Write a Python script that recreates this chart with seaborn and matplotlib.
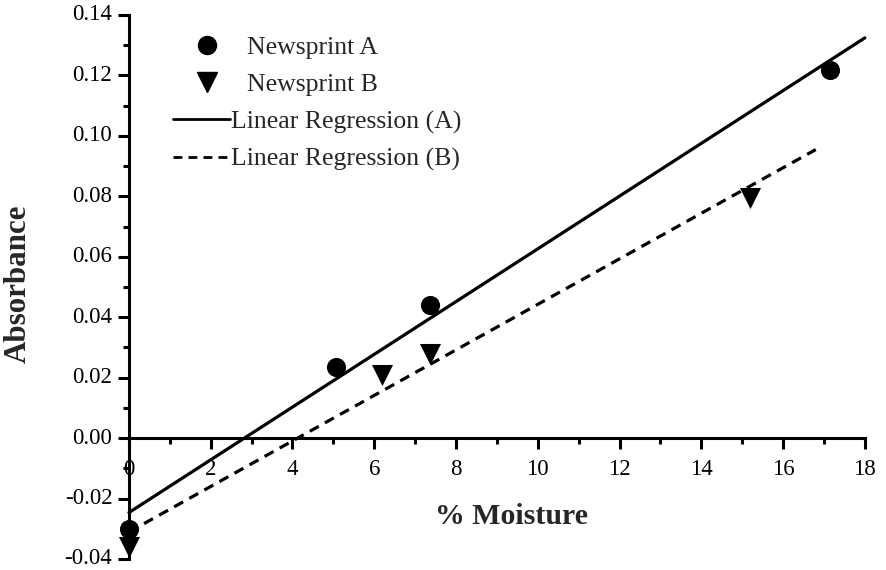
import numpy as np
import pandas as pd
import matplotlib
matplotlib.use("Agg")
import matplotlib.pyplot as plt
from matplotlib.lines import Line2D
import seaborn as sns

# Moisture content (%) and absorbance for the two newsprint samples
moisture_a = [0.0, 5.06, 7.36, 17.14]
absorbance_a = [-0.030, 0.0234, 0.0442, 0.1218]
moisture_b = [0.0, 6.19, 7.36, 15.2]
absorbance_b = [-0.036, 0.021, 0.0277, 0.0796]

# x extent over which each fitted line is drawn
fit_range_a = [0.0, 18.0]
fit_range_b = [0.0, 16.8]

x_ticks = [0, 2, 4, 6, 8, 10, 12, 14, 16, 18]
y_ticks = [-0.04, -0.02, 0.00, 0.02, 0.04, 0.06, 0.08, 0.10, 0.12, 0.14]

sns.set_style("ticks")
plt.rcParams["font.family"] = ["Liberation Serif", "DejaVu Serif"]

fig = plt.figure(figsize=(8.87, 5.70), dpi=100)
ax = fig.add_axes([0.1454, 0.0193, 0.8296, 0.9544])

df_a = pd.DataFrame({"x": moisture_a, "y": absorbance_a})
df_b = pd.DataFrame({"x": moisture_b, "y": absorbance_b})


def fit_line(xs, ys, xr):
    slope, intercept = np.polyfit(xs, ys, 1)
    x = np.array(xr)
    return pd.DataFrame({"x": x, "y": slope * x + intercept})


line_a = fit_line(moisture_a, absorbance_a, fit_range_a)
line_b = fit_line(moisture_b, absorbance_b, fit_range_b)

dash = (0, (3.2, 2.2))

sns.scatterplot(data=df_a, x="x", y="y", marker="o", s=190, color="black",
                edgecolor="black", linewidth=0, ax=ax, clip_on=False, zorder=4)
sns.scatterplot(data=df_b, x="x", y="y", marker="v", s=230, color="black",
                edgecolor="black", linewidth=0, ax=ax, clip_on=False, zorder=4)
sns.lineplot(data=line_a, x="x", y="y", color="black", linewidth=2.3, ax=ax,
             clip_on=False, zorder=3)
sns.lineplot(data=line_b, x="x", y="y", color="black", linewidth=2.3, ax=ax,
             clip_on=False, zorder=3, linestyle=dash)

ax.set_xlim(0, 18)
ax.set_ylim(-0.04, 0.14)

ax.spines["top"].set_visible(False)
ax.spines["right"].set_visible(False)
ax.spines["bottom"].set_position(("data", 0))
for s in ("left", "bottom"):
    ax.spines[s].set_linewidth(2.2)
    ax.spines[s].set_color("black")

ax.set_xticks(x_ticks)
ax.set_xticklabels([str(t) for t in x_ticks])
ax.set_xticks(np.arange(1, 18, 2), minor=True)
ax.set_yticks(y_ticks)
ax.set_yticklabels([f"{t:.2f}" for t in y_ticks])
ax.set_yticks(np.arange(-0.03, 0.14, 0.02), minor=True)

ax.tick_params(axis="both", which="major", direction="out", length=8,
               width=2.2, labelsize=16.5, colors="black")
ax.tick_params(axis="both", which="minor", direction="out", length=4.5,
               width=2.2, colors="black")
ax.tick_params(axis="x", which="major", pad=7)
ax.tick_params(axis="y", which="major", pad=4)
for lbl in ax.get_yticklabels():
    lbl.set_verticalalignment("center")

ax.set_xlabel("% Moisture", fontsize=21.5, fontweight="bold", va="center")
ax.xaxis.set_label_coords(0.52, 0.078)
ax.set_ylabel("Absorbance", fontsize=22.3, fontweight="bold", va="center")
ax.yaxis.set_label_coords(-0.151, 0.505)

# Marker entries and fitted-line entries are laid out as two stacked legends
marker_handles = [
    Line2D([], [], marker="o", color="black", linestyle="none", markersize=13),
    Line2D([], [], marker="v", color="black", linestyle="none", markersize=15),
]
line_handles = [
    Line2D([], [], color="black", linewidth=2.0),
    Line2D([], [], color="black", linewidth=2.0, linestyle=dash),
]
leg1 = ax.legend(marker_handles, ["Newsprint A", "Newsprint B"],
                 loc="upper left", bbox_to_anchor=(0.0598, 0.962),
                 frameon=False, fontsize=18.5, handlelength=2.65,
                 handletextpad=0.23, labelspacing=0.55, borderaxespad=0,
                 borderpad=0)
ax.add_artist(leg1)
ax.legend(line_handles, ["Linear Regression (A)", "Linear Regression (B)"],
          loc="upper left", bbox_to_anchor=(0.0598, 0.825),
          frameon=False, fontsize=18.5, handlelength=2.2,
          handletextpad=0.05, labelspacing=0.55, borderaxespad=0,
          borderpad=0)

fig.savefig("out.png", dpi=100)
